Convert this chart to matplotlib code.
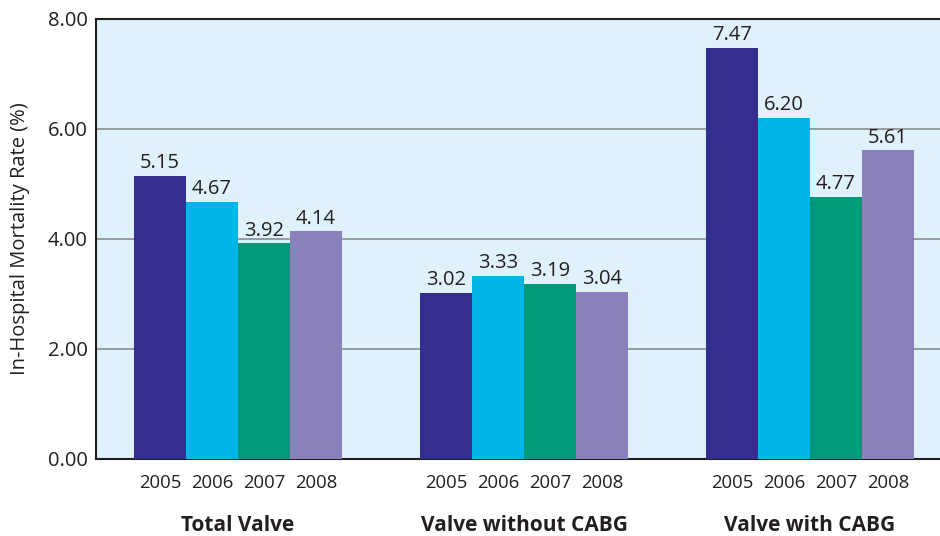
import numpy as np
import matplotlib
matplotlib.use('Agg')
import matplotlib.pyplot as plt
from matplotlib.transforms import blended_transform_factory

plt.rcParams['font.family'] = ['Open Sans', 'DejaVu Sans']

groups = ['Total Valve', 'Valve without CABG', 'Valve with CABG']
years = ['2005', '2006', '2007', '2008']
v2005 = [5.15, 3.02, 7.47]
v2006 = [4.67, 3.33, 6.20]
v2007 = [3.92, 3.19, 4.77]
v2008 = [4.14, 3.04, 5.61]
colors = ['#332e8f', '#00b5e8', '#009a7a', '#8a80bc']

fig = plt.figure(figsize=(9.4, 5.36), dpi=100)
ax = fig.add_axes([0.1021, 0.1437, 0.8979, 0.8209])
ax.set_facecolor('#dff1fa')

centers = np.arange(len(groups)) * 5.5
offsets = np.array([-1.5, -0.5, 0.5, 1.5])
tr = blended_transform_factory(ax.transData, ax.transAxes)
for i, vals in enumerate([v2005, v2006, v2007, v2008]):
    xs = centers + offsets[i]
    ax.bar(xs, vals, width=1.0, color=colors[i], zorder=3)
    for x, v in zip(xs, vals):
        ax.text(x, v + 0.05, f'{v:.2f}', ha='center', va='bottom',
                fontsize=14.5, color='#231f20', zorder=4)
        ax.text(x, -0.034, years[i], ha='center', va='top', fontsize=13.3,
                color='#231f20', transform=tr)

for c, g in zip(centers, groups):
    ax.text(c, -0.128, g, ha='center', va='top', fontsize=15,
            fontweight='bold', color='#231f20', transform=tr)

ax.set_xlim(-2.73, 13.5)
ax.set_ylim(0, 8)
ax.set_yticks([0, 2, 4, 6, 8])
ax.set_yticklabels(['0.00', '2.00', '4.00', '6.00', '8.00'], fontsize=14.5, color='#231f20')
ax.set_xticks([])
ax.tick_params(axis='y', length=0, pad=6)
ax.yaxis.grid(True, color='#8c8c8c', linewidth=1.2, zorder=1)
ax.set_axisbelow(True)
for s in ['left', 'bottom', 'top']:
    ax.spines[s].set_color('#231f20')
    ax.spines[s].set_linewidth(1.5)
ax.spines['right'].set_visible(False)
ax.set_ylabel('In-Hospital Mortality Rate (%)', fontsize=14.5, color='#231f20')
ax.yaxis.set_label_coords(-0.078, 0.5)

fig.savefig('out.png', dpi=100)
